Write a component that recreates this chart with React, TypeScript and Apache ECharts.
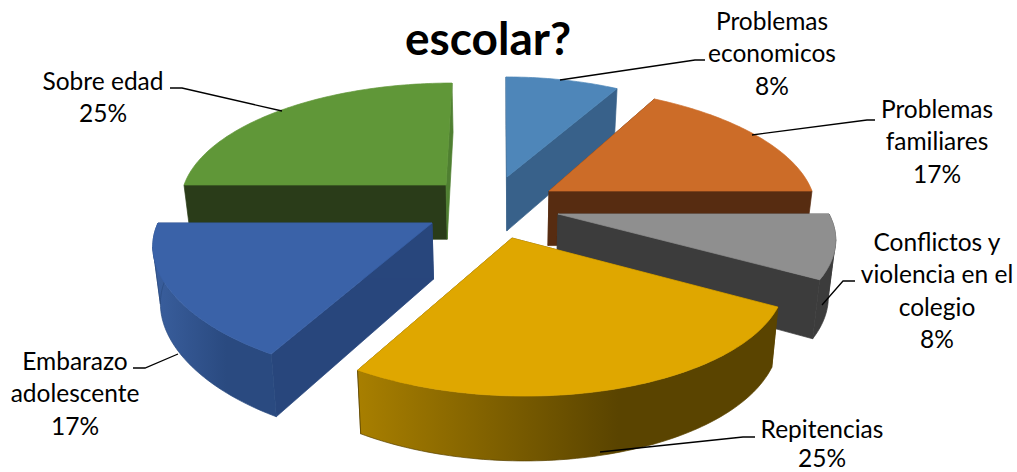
import React, { useEffect, useRef } from "react";
import * as echarts from "echarts";

const chartTitle = "escolar?";
const categories = [
  "Problemas\neconomicos",
  "Problemas\nfamiliares",
  "Conflictos y\nviolencia en el\ncolegio",
  "Repitencias",
  "Embarazo\nadolescente",
  "Sobre edad",
];
const counts = [1, 2, 1, 3, 2, 3];

// Per-slice projection of the exploded 3D pie: apex, radii, perspective, skew
const projection = [
  { ax: 507, ay: 177, rx: 250, ry: 115, p: 0.13, px: 0.13, sk: 1 },
  { ax: 549, ay: 191, rx: 263, ry: 118, p: 0.115, px: 0.115, sk: 15 },
  { ax: 558, ay: 214, rx: 271, ry: 118, p: 0.23, px: 0.23, sk: 0 },
  { ax: 512, ay: 238, rx: 256, ry: 118, p: 0.34, px: 0.34, sk: 13 },
  { ax: 432, ay: 223, rx: 274, ry: 118, p: 0.326, px: 0.2, sk: 0 },
  { ax: 446, ay: 185, rx: 262, ry: 118, p: 0.136, px: 0.136, sk: -6 },
];
const topColors = ["#4e86b9", "#cc6c28", "#8f8f8f", "#dfa700", "#3a62a8", "#609738"];
const startCutColors = ["#38618a", "#572c11", "#3c3c3c", "#5c4500", "#28467c", "#2a3c19"];
const endCutColors = ["#38618a", "#572c11", "#3c3c3c", "#5c4500", "#28467c", "#4f7f31"];
const outerStops = [
  ["#38618a", "#38618a"],
  ["#572c11", "#572c11"],
  ["#3c3c3c", "#3c3c3c"],
  ["#a87f00", "#5a4400"],
  ["#3a5f9e", "#2a4a80"],
  ["#2a3c19", "#2a3c19"],
];
const drawOrder = [5, 0, 1, 2, 4, 3];

const labelBoxes = [
  { x: 772, y: 4, step: 32.5 },
  { x: 937, y: 92, step: 32.5 },
  { x: 937, y: 225, step: 32.5 },
  { x: 822, y: 412, step: 29.5 },
  { x: 75, y: 344, step: 32.5 },
  { x: 103, y: 64, step: 32.5 },
];
const leaders = [
  [[560, 80], [695, 60], [705, 60]],
  [[752, 135], [867, 120], [875, 120]],
  [[822, 305], [843, 281], [855, 281]],
  [[600, 452], [743, 437], [755, 437]],
  [[178, 354], [145, 368], [133, 368]],
  [[282, 111], [182, 88], [170, 88]],
];

const total = counts.reduce((a, b) => a + b, 0);
const cumulative = counts.map((_, i) => counts.slice(0, i).reduce((a, b) => a + b, 0));

function topPoint(i: number, deg: number): number[] {
  const g = projection[i];
  const t = (deg * Math.PI) / 180;
  const v = -Math.cos(t);
  const u = Math.sin(t);
  return [g.ax + g.rx * u * (1 + g.px * v) + g.sk * v, g.ay + g.ry * v * (1 + g.p * v)];
}
function bottomPoint(pt: number[]): number[] {
  return [pt[0] + (500 - pt[0]) * 0.022, pt[1] + 55 + 0.05 * (pt[1] - 200)];
}

function renderSlice(_params: any, api: any) {
  const i = api.value(0);
  const value = api.value(1);
  const g = projection[i];
  const start = (cumulative[i] / total) * 360;
  const end = start + (value / total) * 360;
  const degs: number[] = [];
  for (let d = start; d < end - 0.01; d += 1) degs.push(d);
  degs.push(end);
  const arc = degs.map((d) => topPoint(i, d));
  const apex = [g.ax, g.ay];
  const poly = (points: number[][], fill: any, stroke: string) => ({
    type: "polygon",
    shape: { points },
    style: { fill, stroke, lineWidth: 0.7 },
  });
  const cutStart = [apex, arc[0], bottomPoint(arc[0]), bottomPoint(apex)];
  const last = arc[arc.length - 1];
  const cutEnd = [apex, last, bottomPoint(last), bottomPoint(apex)];

  // Outer wall: only the front half shows, and it is split where the arc turns
  // back horizontally so that the wall folds correctly at its silhouette.
  const front = arc.filter((_, k) => Math.cos((degs[k] * Math.PI) / 180) <= 0.001);
  const xs = front.map((p) => p[0]);
  const minX = xs.length ? Math.min(...xs) : 0;
  const maxX = xs.length ? Math.max(...xs) : 1;
  const gradient = new echarts.graphic.LinearGradient(
    minX, 0, maxX, 0,
    [
      { offset: 0, color: outerStops[i][0] },
      { offset: 0.62, color: outerStops[i][1] },
      { offset: 1, color: outerStops[i][1] },
    ],
    true
  );
  const runs: number[][][] = [];
  let run: number[][] = [];
  let dir = 0;
  front.forEach((pt, k) => {
    if (k > 0) {
      const d = Math.sign(pt[0] - front[k - 1][0]);
      if (dir !== 0 && d !== 0 && d !== dir) {
        runs.push(run);
        run = [front[k - 1]];
      }
      if (d !== 0) dir = d;
    }
    run.push(pt);
  });
  if (run.length > 1) runs.push(run);
  const walls = runs.map((r) =>
    poly([...r, ...r.slice().reverse().map(bottomPoint)], gradient, outerStops[i][1])
  );
  return {
    type: "group",
    children: [
      poly(cutStart, startCutColors[i], startCutColors[i]),
      poly(cutEnd, endCutColors[i], endCutColors[i]),
      ...walls,
      poly([apex, ...arc], topColors[i], topColors[i]),
    ],
  };
}

const labelLines = (i: number) => [
  ...categories[i].split("\n"),
  `${Math.round((counts[i] / total) * 100)}%`,
];

export default function App() {
  const ref = useRef<HTMLDivElement>(null);
  useEffect(() => {
    const chart = echarts.init(ref.current!, null, { renderer: "svg" });
    chart.setOption({
      animation: false,
      backgroundColor: "#ffffff",
      title: {
        text: chartTitle,
        left: 405,
        top: 14,
        padding: 0,
        textStyle: { fontFamily: "Lato", fontSize: 46, fontWeight: "bold", color: "#000000" },
      },
      series: [
        {
          type: "custom",
          coordinateSystem: "none",
          renderItem: renderSlice,
          silent: true,
          data: drawOrder.map((i) => [i, counts[i]]),
          z: 1,
        },
      ],
      graphic: [
        ...leaders.map((points) => ({
          type: "polyline",
          z: 10,
          silent: true,
          shape: { points },
          style: { stroke: "#000000", lineWidth: 1.3, fill: "none" },
        })),
        ...labelBoxes.flatMap((b, i) =>
          labelLines(i).map((line, k) => ({
            type: "text",
            x: b.x,
            y: b.y + b.step * k + 16.25,
            z: 11,
            silent: true,
            style: {
              text: line,
              fontFamily: "Lato",
              fontSize: 24.5,
              lineHeight: 24,
              fill: "#000000",
              align: "center",
              verticalAlign: "middle",
            },
          }))
        ),
      ],
    });
    return () => chart.dispose();
  }, []);
  return (
    <div
      ref={ref}
      style={{ position: "fixed", left: 0, top: 0, width: 1017, height: 472 }}
    />
  );
}
